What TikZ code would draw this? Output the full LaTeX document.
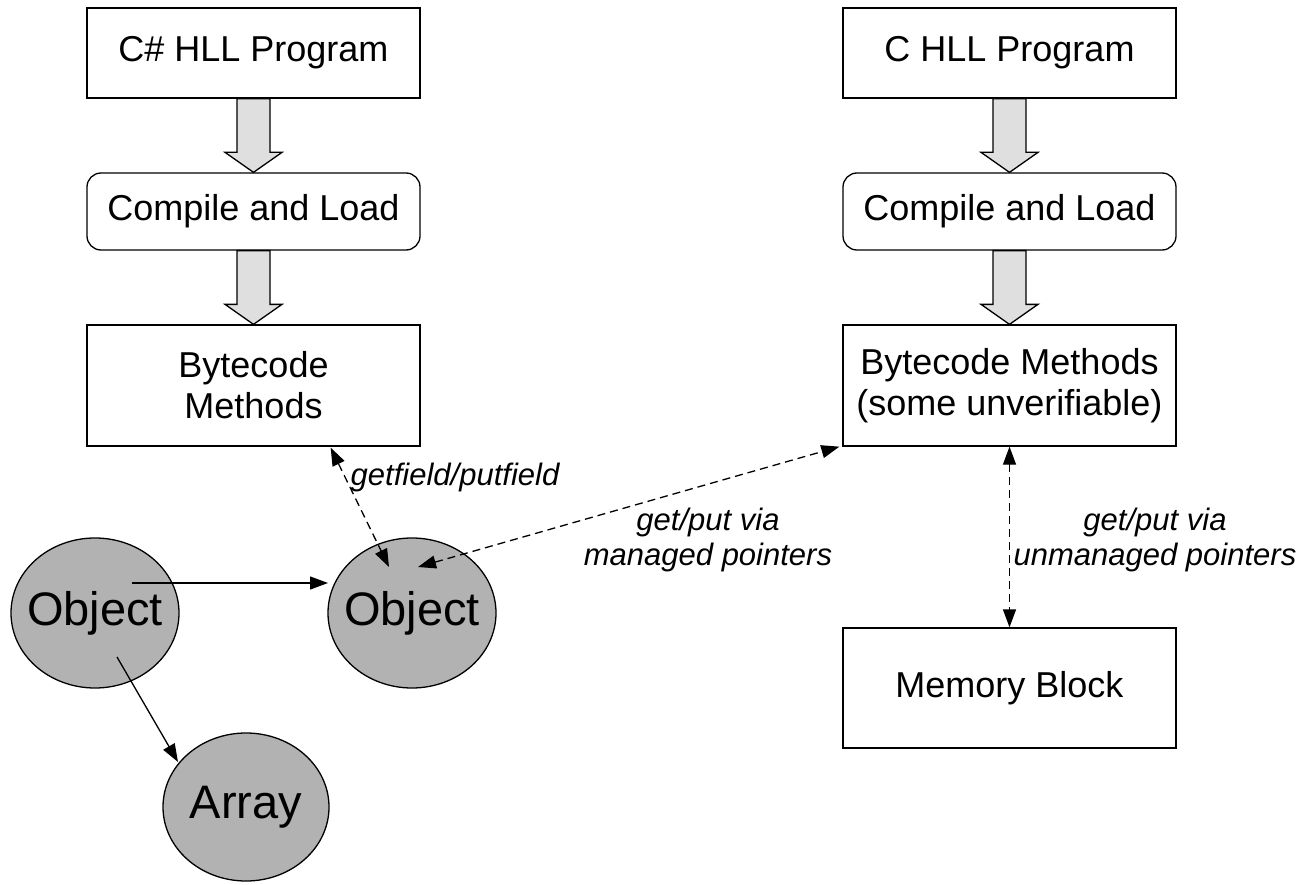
\documentclass[tikz,border=0pt]{standalone}
\usepackage{fontspec}
\setmainfont{Liberation Sans}
\usetikzlibrary{arrows.meta,calc,shapes.geometric}

% hollow block arrow from the bottom of one box to the top of the next
\newcommand\fatarrow[2]{%
  \draw[fatarrowstyle]
    ($(#1.south)+(-16.5,0)$) -- ($(#1.south)+(16.5,0)$)
    -- ($(#2.north)+(16.5,-20)$) -- ($(#2.north)+(28.5,-20)$)
    -- (#2.north)
    -- ($(#2.north)+(-28.5,-20)$) -- ($(#2.north)+(-16.5,-20)$) -- cycle;}

\begin{document}
\begin{tikzpicture}[x=1pt,y=-1pt,
  box/.style={draw,line width=1.3pt,minimum width=333pt,align=center,
    inner sep=0pt,font=\fontsize{36}{41}\selectfont},
  roundbox/.style={box,rounded corners=14pt},
  blob/.style={ellipse,draw,line width=1.3pt,fill=gray!60,inner sep=0pt,
    font=\fontsize{47}{50}\selectfont},
  fatarrowstyle/.style={draw,line width=1.3pt,fill=gray!25,line join=miter},
  ref/.style={line width=1.3pt,-{Triangle[length=18pt,width=13pt]}},
  access/.style={line width=1.3pt,dash pattern=on 8pt off 5pt,
    {Triangle[length=18pt,width=13pt]}-{Triangle[length=18pt,width=13pt]}},
  lbl/.style={font=\fontsize{31}{35}\selectfont\itshape,align=center,inner sep=0pt}]
\useasboundingbox (0,0) rectangle (1306,885);

% C# pipeline
\node[box,minimum height=90pt] (cs) at (253.5,53) {C\# HLL Program};
\node[roundbox,minimum height=77pt] (cl) at (253.5,211.5) {Compile and Load};
\node[box,minimum height=121pt] (bl) at (253.5,385.5) {Bytecode\\Methods};

% C pipeline
\node[box,minimum height=90pt] (c) at (1009.5,53) {C HLL Program};
\node[roundbox,minimum height=77pt] (cr) at (1009.5,211.5) {Compile and Load};
\node[box,minimum height=121pt] (br) at (1009.5,385.5) {Bytecode Methods\\(some unverifiable)};
\node[box,minimum height=120pt] (mem) at (1009.5,688) {Memory Block};

\fatarrow{cs}{cl}
\fatarrow{cl}{bl}
\fatarrow{c}{cr}
\fatarrow{cr}{br}

% managed heap
\node[blob,minimum width=168pt,minimum height=150pt] (o1) at (95,613) {\makebox[0pt]{Object}};
\node[blob,minimum width=168pt,minimum height=150pt] (o2) at (412,613) {\makebox[0pt]{Object}};
\node[blob,minimum width=166pt,minimum height=148pt] (arr) at (246,807) {\makebox[0pt]{Array}};

\draw[ref] ($(o1.center)+(37,-30)$) -- ($(o2.center)+(-84,-30)$);
\draw[ref] ($(o1.center)+(22,44)$) -- ($(arr.center)+(-68,-45)$);

% field and pointer access
\draw[access] ($(bl.south east)+(-90,1)$) -- ($(o2.center)+(-23,-46)$);
\draw[access] ($(o2.center)+(6,-46)$) -- ($(br.south west)+(-3,0)$);
\draw[access] (br.south) -- (mem.north);

\node[lbl] (lgf) at (455,477) {getfield/putfield};
\node[lbl] (lmp) at (708,540) {get/put via\\managed pointers};
\node[lbl] (lup) at (1155,540) {get/put via\\unmanaged pointers};
\end{tikzpicture}
\end{document}
